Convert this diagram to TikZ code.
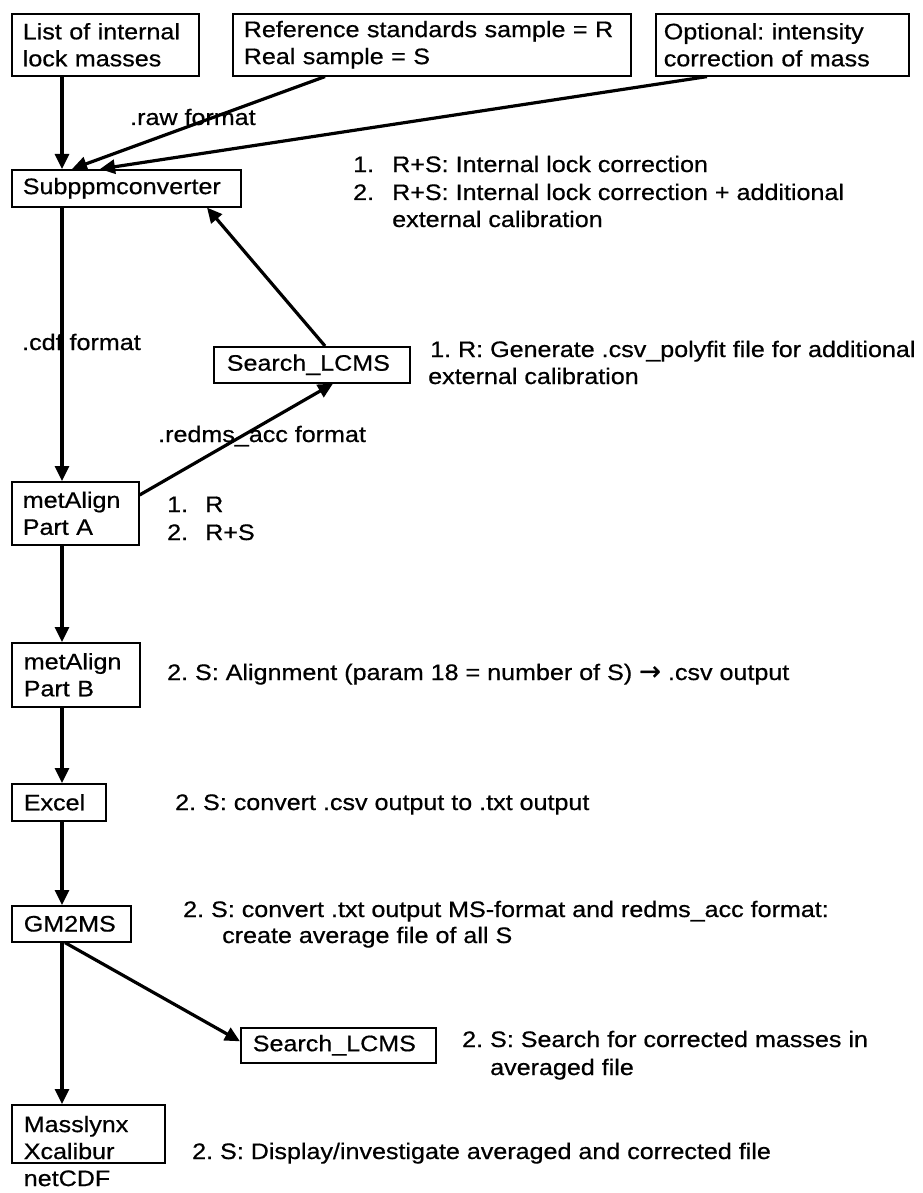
\documentclass[tikz,border=0pt]{standalone}
\usepackage{fontspec}
\setmainfont{Liberation Sans}[FakeStretch=1.12, FakeBold=0.6]
\newfontfamily\arrowfont{DejaVu Sans}[FakeBold=0.8]
\usetikzlibrary{arrows.meta}
\newcommand\dfont{\fontsize{22.4}{27}\selectfont\frenchspacing}
\tikzset{
  box/.style={draw, line width=1.6pt, anchor=north west, inner xsep=11pt, inner ysep=4pt, align=left, font=\dfont},
  lbl/.style={anchor=base west, inner sep=0pt, font=\dfont},
  arr/.style={line width=3.2pt, -{Triangle[length=15pt,width=14pt]}},
}
\begin{document}
\frenchspacing
\begin{tikzpicture}[x=1pt,y=-1pt]
\useasboundingbox (0,0) rectangle (922,1193);
\clip (0,0) rectangle (922,1193);
\fill[white] (0,0) rectangle (922,1193);
% boxes
\node[box, text width=165pt, minimum height=62pt] (b1) at (11,13) {List of internal\\lock masses};
\node[box, text width=376pt, minimum height=62pt] (b2) at (232,13) {Reference standards sample = R\\Real sample = S};
\node[box, inner xsep=8pt, text width=237pt, minimum height=62pt] (b3) at (655,13) {Optional: intensity\\correction of mass};
\node[box, text width=207pt, minimum height=37pt] (sub) at (11,169) {Subppmconverter};
\node[box, inner xsep=13pt, text width=170pt, minimum height=36pt] (s1) at (213,346) {Search\_LCMS};
\node[box, text width=105pt, minimum height=63pt] (ma) at (11,481) {metAlign\\Part A};
\node[box, inner xsep=12pt, text width=104pt, minimum height=64pt] (mb) at (11,642) {metAlign\\Part B};
\node[box, inner xsep=12pt, text width=70pt, minimum height=37pt] (ex) at (11,783) {Excel};
\node[box, inner xsep=12pt, text width=95pt, minimum height=36pt] (gm) at (11,905) {GM2MS};
\node[box, inner xsep=12pt, text width=171pt, minimum height=35pt] (s2) at (240,1027) {Search\_LCMS};
\node[box, inner xsep=12pt, inner ysep=11pt, text width=129pt, text depth=20pt] (ml) at (11,1104) {Masslynx\\Xcalibur\\netCDF};
% connectors
\draw[arr] ([xshift=51pt]b1.south west) -- ([xshift=51pt]sub.north west);
\draw[arr] ([xshift=93pt]b2.south west) -- ([xshift=61pt]sub.north west);
\draw[arr] ([xshift=52pt]b3.south west) -- ([xshift=89pt]sub.north west);
\draw[arr] ([xshift=112pt]s1.north west) -- ([xshift=196pt]sub.south west);
\draw[arr] ([xshift=51pt]sub.south west) -- ([xshift=51pt]ma.north west);
\draw[arr] ([yshift=-14pt]ma.north east) -- ([xshift=120pt]s1.south west);
\draw[arr] ([xshift=51pt]ma.south west) -- ([xshift=51pt]mb.north west);
\draw[arr] ([xshift=51pt]mb.south west) -- ([xshift=51pt]ex.north west);
\draw[arr] ([xshift=51pt]ex.south west) -- ([xshift=51pt]gm.north west);
\draw[arr] ([xshift=51pt]gm.south west) -- ([xshift=51pt]ml.north west);
\draw[arr] ([xshift=54pt]gm.south west) -- ([yshift=4pt]s2.west);
% labels
\node[lbl] (traw) at (130,125) {.raw format};
\node[lbl] (n1a) at (353,172) {1.};
\node[lbl] (t1a) at (392,172) {R+S: Internal lock correction};
\node[lbl] (n1b) at (353,200) {2.};
\node[lbl] (t1b) at (392,200) {R+S: Internal lock correction + additional};
\node[lbl] (t1c) at (392,227) {external calibration};
\node[lbl] (tp1) at (430,357) {1. R: Generate .csv\_polyfit file for additional};
\node[lbl] (tp2) at (428,384) {external calibration};
\node[lbl] (tcdf) at (22,350) {.cdf format};
\node[lbl] (tred) at (158,442) {.redms\_acc format};
\node[lbl] (n2a) at (167,512) {1.};
\node[lbl] (t2a) at (205,512) {R};
\node[lbl] (n2b) at (167,540) {2.};
\node[lbl] (t2b) at (205,540) {R+S};
\node[lbl] (tal) at (167,680) {2. S: Alignment (param 18 = number of S) {\arrowfont\fontsize{26}{27}\selectfont →} .csv output};
\node[lbl] (tex) at (175,810) {2. S: convert .csv output to .txt output};
\node[lbl] (tgm1) at (183,917) {2. S: convert .txt output MS-format and redms\_acc format:};
\node[lbl] (tgm2) at (222,943) {create average file of all S};
\node[lbl] (ts1) at (462,1047) {2. S: Search for corrected masses in};
\node[lbl] (ts2) at (490,1075) {averaged file};
\node[lbl] (tdi) at (192,1159) {2. S: Display/investigate averaged and corrected file};
\end{tikzpicture}
\end{document}
